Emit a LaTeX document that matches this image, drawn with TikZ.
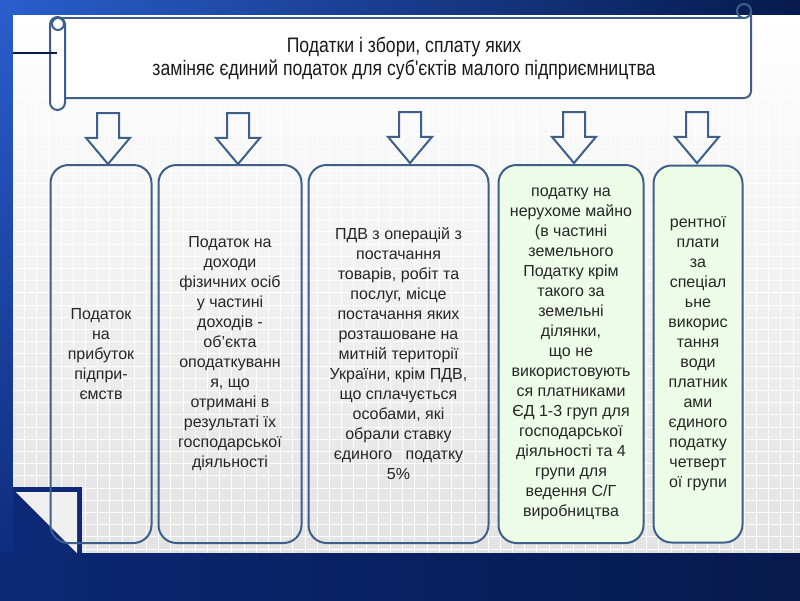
\documentclass[tikz,border=0pt]{standalone}
\usepackage{fontspec}
\setmainfont{Liberation Sans}
\newfontfamily\narrowfont[FakeStretch=0.84]{Liberation Sans}
\usetikzlibrary{positioning,shapes.arrows}
\definecolor{steel}{RGB}{62,95,138}
\definecolor{navy}{RGB}{6,26,76}
\definecolor{royal}{RGB}{42,94,204}
\definecolor{deepblue}{RGB}{12,40,118}
\definecolor{palegreen}{RGB}{237,252,231}
\tikzset{
  taxbox/.style={draw=steel, line width=2pt, rectangle, rounded corners=18pt, minimum height=378pt, align=center, text=black!85, font=\fontsize{16}{20}\selectfont, inner sep=2pt},
  downarrow/.style={draw=steel, line width=2pt, single arrow, rotate=-90, minimum height=51pt, inner sep=10pt, single arrow head extend=11pt, single arrow tip angle=80}
}

\begin{document}
\begin{tikzpicture}[x=1pt, y=-1pt]
  \useasboundingbox (0,0) rectangle (800,600);
  % background frame
  \shade[left color=royal, right color=navy] (0,0) rectangle (800,600);
  \shade[top color=royal, bottom color=deepblue] (0,0) rectangle (13,600);
  \shade[top color=white, bottom color=black!11] (13,15) rectangle (800,553);
  \draw[white, line width=1pt, opacity=0.9] (13,15) grid[step=12.2pt] (800,553);
  \shade[left color=deepblue, right color=navy] (0,553) rectangle (800,600);
  \fill[deepblue] (13,487) rectangle (82,553);
  \fill[white!94!black] (16,492) -- (77,492) -- (77,553) -- cycle;

  % scroll banner
  \fill[white] (58,18) -- (751,18) [rounded corners=7pt] -- (751,98) [sharp corners] -- (58,98) -- cycle;
  \draw[steel, line width=2pt] (58,18) -- (744,18);
  \draw[steel, line width=2pt, rounded corners=7pt] (751,11) -- (751,98) -- (64,98);
  \draw[steel, line width=2pt] (744,11) circle[radius=7pt];
  \draw[steel, line width=2pt, fill=white, rounded corners=7.5pt] (50,17) rectangle (65,110);
  \draw[steel, line width=2pt] (58,24) circle[radius=6pt];
  \draw[navy, line width=1.2pt] (13,53) -- (57,53);
  \node[font=\narrowfont\fontsize{21}{23}\selectfont, align=center, text=black!90] (title) at (404,58)
    {Податки і збори, сплату яких\\заміняє єдиний податок для суб'єктів малого підприємництва};

  % arrows
  \node[downarrow] (arr1) at (108,132) {};
  \node[downarrow] (arr2) at (238,132) {};
  \node[downarrow] (arr3) at (410,131) {};
  \node[downarrow] (arr4) at (574,131) {};
  \node[downarrow] (arr5) at (697,131) {};

  % boxes
  \node[taxbox, minimum width=101pt] (profit) at (101,354) {Податок\\на\\прибуток\\підпри-\\ємств};
  \node[taxbox, minimum width=143pt, right=5pt of profit] (income) {Податок на\\доходи\\фізичних осіб\\у частині\\доходів -\\об'єкта\\оподаткуванн\\я,  що\\отримані в\\результаті їх\\господарської\\діяльності};
  \node[taxbox, minimum width=180pt, right=5pt of income] (vat) {ПДВ з операцій з\\постачання\\товарів, робіт та\\послуг, місце\\постачання яких\\розташоване на\\митній території\\України, крім ПДВ,\\що сплачується\\особами, які\\обрали ставку\\єдиного \ \ податку\\5\%};
  \node[taxbox, fill=palegreen, minimum width=145pt, right=8pt of vat] (land) {податку на\\нерухоме майно\\(в частині\\земельного\\Податку  крім\\такого за\\земельні\\ділянки,\\що не\\використовують\\ся платниками\\ЄД 1-3 груп для\\господарської\\діяльності та 4\\групи для\\ведення С/Г\\виробництва};
  \node[taxbox, fill=palegreen, minimum width=89pt, minimum height=377pt, right=8pt of land] (rent) {рентної\\плати\\за\\спеціал\\ьне\\викорис\\тання\\води\\платник\\ами\\єдиного\\податку\\четверт\\ої групи};
\end{tikzpicture}
\end{document}
